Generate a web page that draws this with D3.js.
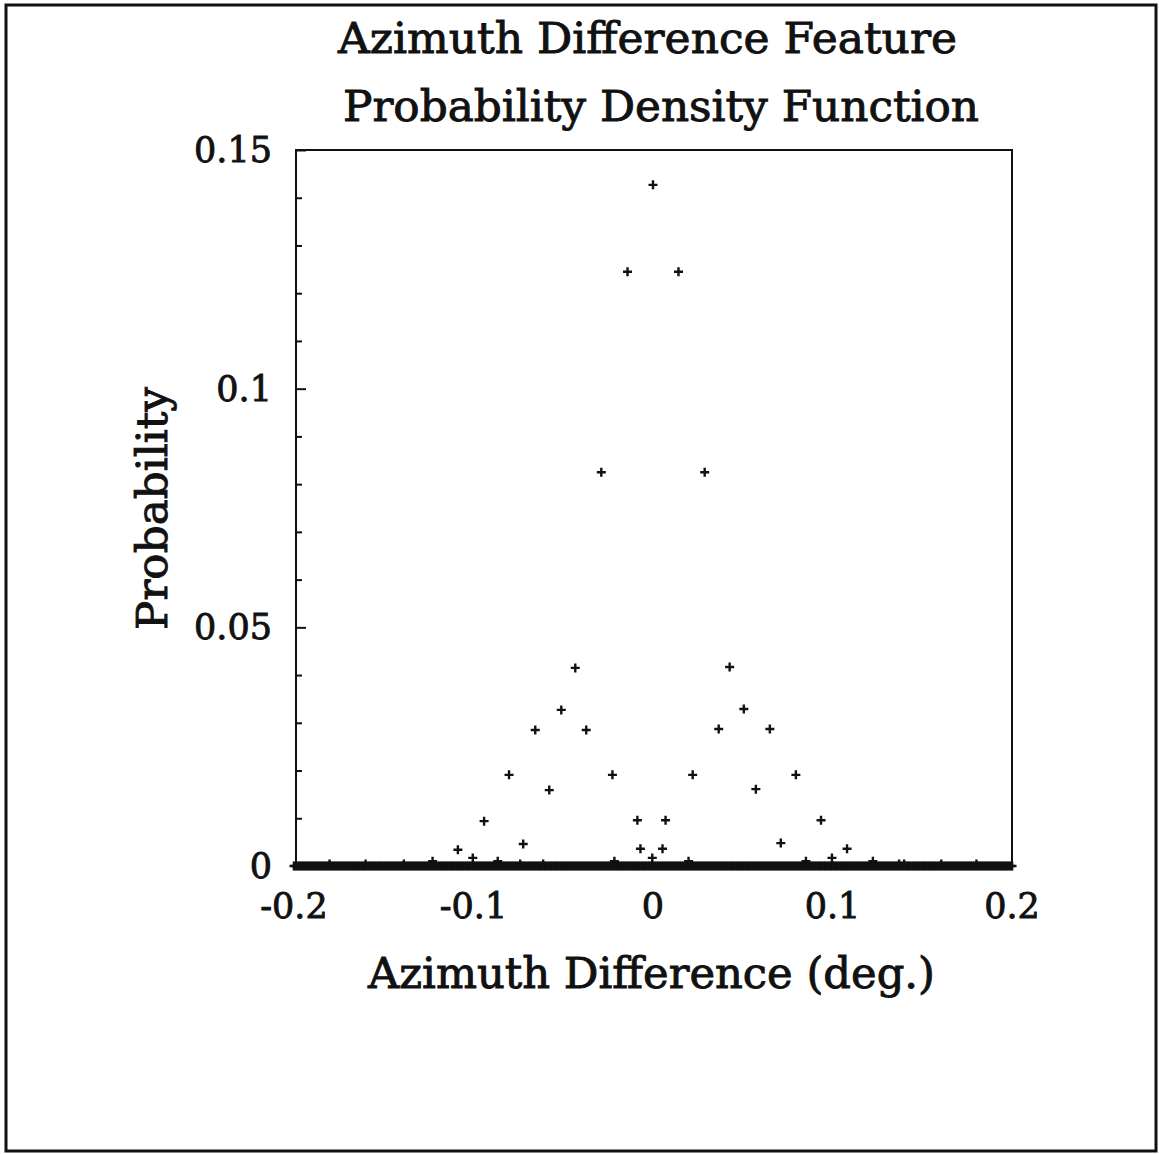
<!DOCTYPE html>
<html>
<head>
<meta charset="utf-8">
<script src="https://cdn.jsdelivr.net/npm/d3@7"></script>
<style>
  html, body { margin: 0; padding: 0; background: #fff; }
  svg { display: block; }
  text { font-family: "DejaVu Serif", "Liberation Serif", serif; fill: #111; stroke: #111; stroke-width: 0.9px; }
</style>
</head>
<body>
<script>
// ---- Data ----
const titleLines = ["Azimuth Difference Feature", "Probability Density Function"];
const xLabel = "Azimuth Difference (deg.)";
const yLabel = "Probability";
const xTicks = [-0.2, -0.1, 0, 0.1, 0.2];
const xTickLabels = ["-0.2", "-0.1", "0", "0.1", "0.2"];
const yTicks = [0, 0.05, 0.1, 0.15];
const yTickLabels = ["0", "0.05", "0.1", "0.15"];
const yMinorTicks = [0.01, 0.02, 0.03, 0.04, 0.06, 0.07, 0.08, 0.09, 0.11, 0.12, 0.13, 0.14];

// clearly visible samples
const diffX = [0.000, -0.0142, 0.0142, -0.0288, 0.0288, -0.0433, 0.0427, -0.0511, 0.0506,
  -0.0656, -0.0372, 0.0366, 0.0651, -0.0802, -0.0226, 0.0221, 0.0796, -0.0578, 0.0573,
  -0.0941, -0.0087, 0.0070, 0.0936, -0.0723, 0.0712, -0.1087, -0.0070, 0.0053, 0.1081];
const probY = [0.1427, 0.1245, 0.1245, 0.0825, 0.0825, 0.0415, 0.0417, 0.0327, 0.0329,
  0.0285, 0.0285, 0.0287, 0.0287, 0.0191, 0.0191, 0.0191, 0.0191, 0.0159, 0.0161,
  0.0094, 0.0096, 0.0096, 0.0096, 0.0046, 0.0048, 0.0034, 0.0036, 0.0036, 0.0036];

// samples just above zero (small spikes on the baseline)
const smallX = [-0.1228, -0.1004, -0.0865, -0.0215, -0.0004, 0.0198, 0.0852, 0.0997, 0.1225,
  -0.1802, -0.1601, -0.1388, -0.0740, -0.0612, 0.1371, 0.1399, 0.1606, 0.1802];
const smallY = [0.0010, 0.0017, 0.0010, 0.0010, 0.0017, 0.0010, 0.0010, 0.0017, 0.0010,
  0.0004, 0.0004, 0.0004, 0.0004, 0.0004, 0.0004, 0.0004, 0.0004, 0.0004];

// all remaining samples on the evaluation grid have probability 0
const zeroGridStep = 0.001;
const zeroX = d3.range(-0.2, 0.2 + zeroGridStep / 2, zeroGridStep);

// ---- Drawing ----
const W = 1159, H = 1154;
const svg = d3.select("body").append("svg").attr("width", W).attr("height", H);

// outer page border
svg.append("rect").attr("x", 6).attr("y", 5).attr("width", 1150).attr("height", 1146)
  .attr("fill", "none").attr("stroke", "#111").attr("stroke-width", 3);

const plot = { left: 296, right: 1012, top: 150, bottom: 866 };
const x = d3.scaleLinear().domain([-0.2, 0.2]).range([plot.left - 2, plot.right]);
const y = d3.scaleLinear().domain([0, 0.15]).range([plot.bottom, plot.top]);

// frame
svg.append("rect").attr("x", plot.left).attr("y", plot.top)
  .attr("width", plot.right - plot.left).attr("height", plot.bottom - plot.top)
  .attr("fill", "none").attr("stroke", "#111").attr("stroke-width", 2);

// y axis: major ticks inward
const yAxisMajor = d3.axisRight(y).tickValues(yTicks).tickSize(10).tickFormat("");
const gy = svg.append("g").attr("transform", `translate(${plot.left},0)`).call(yAxisMajor);
gy.select(".domain").remove();
gy.selectAll(".tick line").attr("stroke", "#111").attr("stroke-width", 2);
const yAxisMinor = d3.axisRight(y).tickValues(yMinorTicks).tickSize(6).tickFormat("");
const gy2 = svg.append("g").attr("transform", `translate(${plot.left},0)`).call(yAxisMinor);
gy2.select(".domain").remove();
gy2.selectAll(".tick line").attr("stroke", "#111").attr("stroke-width", 2);

// y tick labels
svg.append("g").selectAll("text").data(yTicks).join("text")
  .attr("x", 272).attr("y", d => y(d) + 12)
  .attr("text-anchor", "end").attr("font-size", 35)
  .text((d, i) => yTickLabels[i]);

// x tick labels
svg.append("g").selectAll("text").data(xTicks).join("text")
  .attr("x", d => x(d)).attr("y", 918)
  .attr("text-anchor", "middle").attr("font-size", 35)
  .text((d, i) => xTickLabels[i]);

// markers
function cross(g, xs, ys, arm, sw) {
  g.selectAll("path").data(xs.map((d, i) => [d, ys[i]])).join("path")
    .attr("d", d => {
      const cx = x(d[0]), cy = y(d[1]);
      return `M${cx - arm},${cy}H${cx + arm}M${cx},${cy - arm}V${cy + arm}`;
    })
    .attr("stroke", "#111").attr("stroke-width", sw).attr("fill", "none");
}
cross(svg.append("g"), zeroX, zeroX.map(() => 0), 4.5, 2.6);
cross(svg.append("g"), smallX, smallY, 4.5, 2.4);
cross(svg.append("g"), diffX, probY, 4.5, 2.4);

// titles
svg.append("text").attr("x", 338).attr("y", 53).attr("font-size", 42)
  .attr("textLength", 619).attr("lengthAdjust", "spacingAndGlyphs").text(titleLines[0]);
svg.append("text").attr("x", 343).attr("y", 121).attr("font-size", 42)
  .attr("textLength", 636).attr("lengthAdjust", "spacingAndGlyphs").text(titleLines[1]);

// axis labels
svg.append("text").attr("x", 368).attr("y", 988).attr("font-size", 42)
  .attr("textLength", 567).attr("lengthAdjust", "spacingAndGlyphs").text(xLabel);
svg.append("text").attr("transform", "translate(167,630) rotate(-90)")
  .attr("font-size", 42)
  .attr("textLength", 243).attr("lengthAdjust", "spacingAndGlyphs").text(yLabel);
</script>
</body>
</html>
